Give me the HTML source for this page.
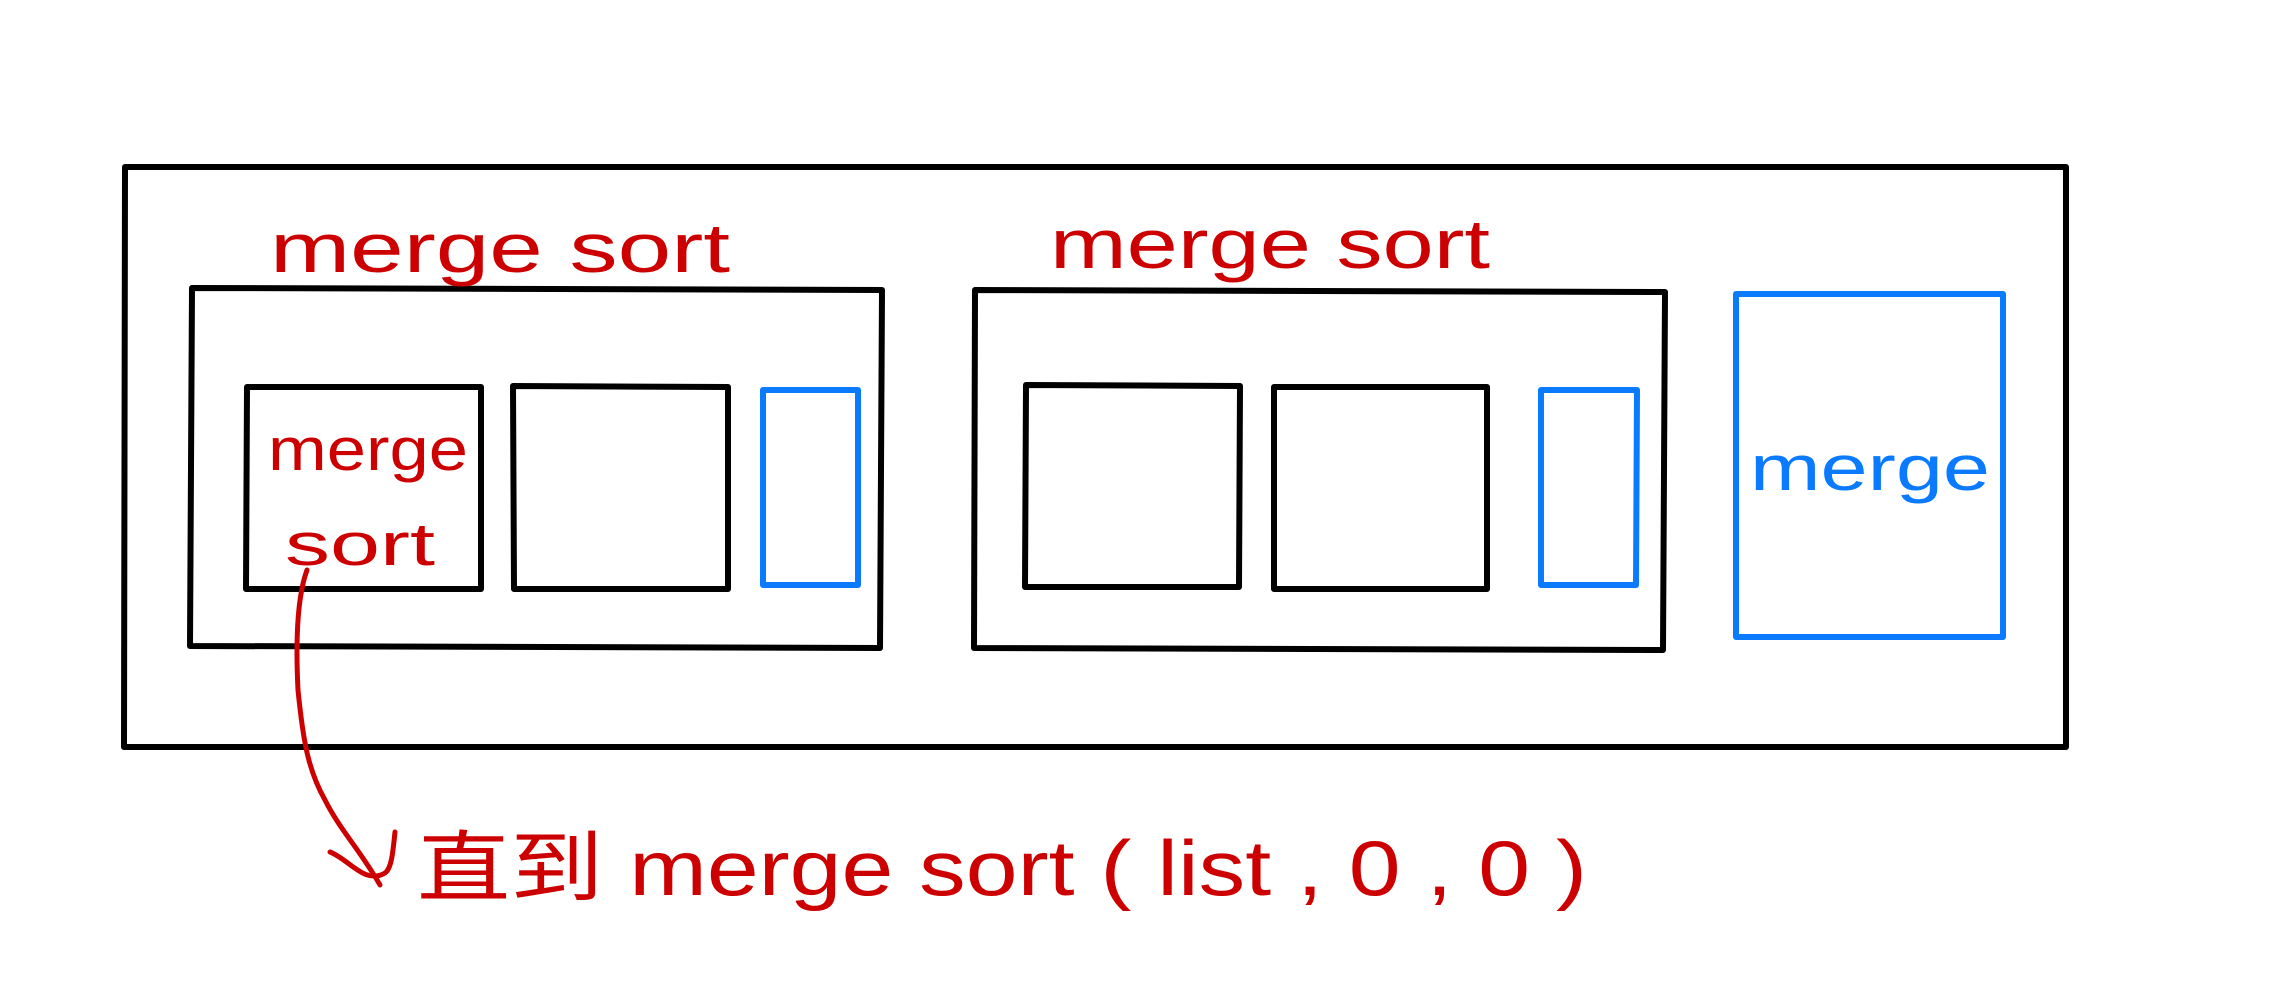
<!DOCTYPE html>
<html><head><meta charset="utf-8"><style>
html,body{margin:0;padding:0;background:#fff;}
svg{display:block}
text{font-family:"Liberation Sans","Noto Sans CJK SC",sans-serif;}
</style></head><body>
<svg width="2292" height="1000" viewBox="0 0 2292 1000">
<g fill="none" stroke-width="6" stroke-linejoin="round" stroke-linecap="round">
 <path stroke="#000" d="M125,167 L2066,167 L2066,747 L124,747 Z"/>
 <path stroke="#000" d="M192,288 L882,290 L880,648 L190,646 Z"/>
 <path stroke="#000" d="M247,387 L481,387 L481,589 L246,589 Z"/>
 <path stroke="#000" d="M513,386 L728,387 L728,589 L514,589 Z"/>
 <path stroke="#0a7aff" d="M763,390 L858,390 L858,585 L763,585 Z"/>
 <path stroke="#000" d="M975,290 L1665,292 L1663,650 L974,648 Z"/>
 <path stroke="#000" d="M1026,385 L1240,386 L1239,587 L1025,587 Z"/>
 <path stroke="#000" d="M1274,387 L1487,387 L1487,589 L1274,589 Z"/>
 <path stroke="#0a7aff" d="M1541,390 L1637,390 L1636,585 L1541,585 Z"/>
 <path stroke="#0a7aff" d="M1736,294 L2003,294 L2003,637 L1736,637 Z"/>
 <path stroke="#c00" stroke-width="5" d="M307,570 C296,600 296,650 298,690 C303,740 308,770 325,800 C340,830 360,850 380,885"/>
 <path stroke="#c00" stroke-width="5" d="M330,852 C350,860 365,885 385,873 C392,868 393,850 395,832"/>
</g>
<g fill="#c00" font-size="70">
 <text x="270" y="272" textLength="460" lengthAdjust="spacingAndGlyphs">merge  sort</text>
 <text x="1050" y="268" textLength="440" lengthAdjust="spacingAndGlyphs">merge sort</text>
 <text x="268" y="470" font-size="60" textLength="200" lengthAdjust="spacingAndGlyphs">merge</text>
 <text x="285" y="565" font-size="60" textLength="150" lengthAdjust="spacingAndGlyphs">sort</text>
 <text x="417" y="895" font-size="78" textLength="1170" lengthAdjust="spacingAndGlyphs">直到 merge sort ( list , 0 , 0 )</text>
</g>
<text x="1750" y="490" font-size="64" fill="#0a7aff" textLength="240" lengthAdjust="spacingAndGlyphs">merge</text>
</svg>
</body></html>
